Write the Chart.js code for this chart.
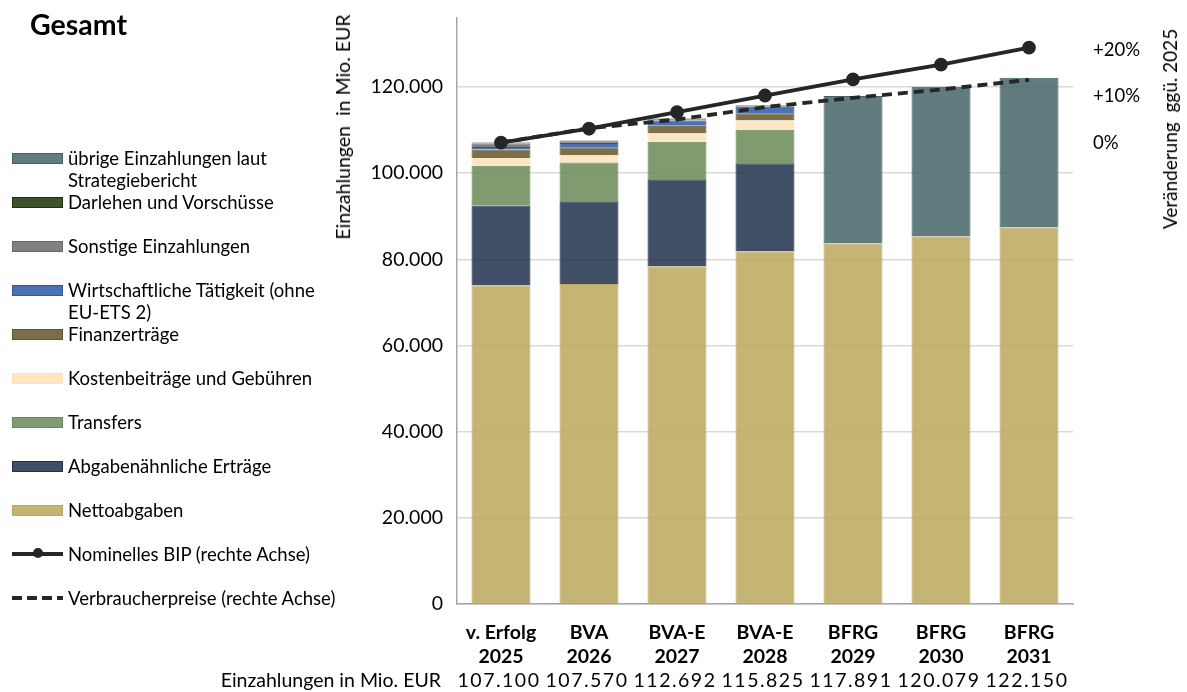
<!DOCTYPE html>
<html lang="de">
<head>
<meta charset="utf-8">
<title>Gesamt</title>
<script src="https://cdn.jsdelivr.net/npm/chart.js@4.4.1/dist/chart.umd.min.js"></script>
<style>
  body { margin: 0; background: #fff; font-family: Lato, "Open Sans", sans-serif; color: #000; }
  #wrap { position: relative; width: 1187px; height: 692px; overflow: hidden; }
  #chart { position: absolute; left: 0; top: 0; }
  #title { position: absolute; left: 30px; top: 10px; font-size: 28.5px; line-height: 28px; font-weight: 700; }
  .axisTitle { position: absolute; line-height: 22px; white-space: pre; transform: translate(-50%, -50%) rotate(-90deg); }
  .item { position: absolute; left: 12px; height: 22px; font-size: 18.5px; line-height: 22px; }
  .item .box { position: absolute; left: 0; top: 6px; width: 49px; height: 9px; border: 1px solid; }
  .item .line { position: absolute; left: 0; top: 9px; width: 51px; height: 3.5px; background: #262626; }
  .item .dashed { background: repeating-linear-gradient(to right, #262626 0 10px, transparent 10px 15px); }
  .item .dot { position: absolute; left: 21px; top: 5px; width: 10px; height: 10px; border-radius: 50%; background: #262626; }
  .item .txt { position: absolute; left: 56px; top: 0; white-space: pre; }
</style>
</head>
<body>
<div id="wrap">
  <canvas id="chart" width="1187" height="692"></canvas>
  <div id="title">Gesamt</div>
  <div class="axisTitle" style="left:343px; top:127px; font-size:19.5px;">Einzahlungen  in Mio. EUR</div>
  <div class="axisTitle" style="left:1170px; top:129px; font-size:19px;">Veränderung  ggü. 2025</div>
  <div id="legend"></div>
</div>
<script>
// Kategorien (x-Achse)
var categories = [
  ["v. Erfolg", "2025"],
  ["BVA", "2026"],
  ["BVA-E", "2027"],
  ["BVA-E", "2028"],
  ["BFRG", "2029"],
  ["BFRG", "2030"],
  ["BFRG", "2031"],
];
var totalsLabel = "Einzahlungen in Mio. EUR";
var totals = [107100, 107570, 112692, 115825, 117891, 120079, 122150];

// Einzahlungen in Mio. EUR (gestapelt, von unten nach oben)
var nettoabgaben = [73900, 74300, 78400, 81900, 83700, 85300, 87400];
var abgabenaehnlich = [18600, 19200, 20200, 20400, null, null, null];
var transfers = [9200, 9000, 8700, 7800, null, null, null];
var kostenbeitraege = [1800, 1700, 1900, 2100, null, null, null];
var finanzertraege = [2000, 1800, 1800, 1700, null, null, null];
var wirtschaftlich = [600, 1000, 1200, 1500, null, null, null];
var sonstige = [800, 400, 300, 300, null, null, null];
var darlehen = [200, 200, 200, 100, null, null, null];
var uebrige = [null, null, null, null, 34191, 34779, 34750];

// Veränderung ggü. 2025 in % (rechte Achse)
var bip = [0, 3.0, 6.6, 10.2, 13.7, 16.9, 20.6];
var vpi = [0, 3.1, 5.0, 7.7, 9.7, 11.5, 13.6];

// Achsen
var leftTicks = [0, 20000, 40000, 60000, 80000, 100000, 120000];
var rightTicks = [0, 10, 20];
var baseYear = 107100;
var leftMax = 136017;

function fmt(v) {
  return String(v).replace(/\B(?=(\d{3})+(?!\d))/g, ".");
}

var barSeries = [
  { label: "Nettoabgaben", data: nettoabgaben, rgb: "187,168,92" },
  { label: "Abgabenähnliche Erträge", data: abgabenaehnlich, rgb: "32,48,75" },
  { label: "Transfers", data: transfers, rgb: "104,138,86" },
  { label: "Kostenbeiträge und Gebühren", data: kostenbeitraege, rgb: "253,226,182" },
  { label: "Finanzerträge", data: finanzertraege, rgb: "100,86,44" },
  { label: "Wirtschaftliche Tätigkeit (ohne\nEU-ETS 2)", data: wirtschaftlich, rgb: "42,89,162" },
  { label: "Sonstige Einzahlungen", data: sonstige, rgb: "106,106,106" },
  { label: "Darlehen und Vorschüsse", data: darlehen, rgb: "28,52,12" },
  { label: "übrige Einzahlungen laut\nStrategiebericht", data: uebrige, rgb: "68,101,103" },
];

var datasets = [];
barSeries.forEach(function (s) {
  datasets.push({
    type: "bar",
    label: s.label.replace("\n", " "),
    legendText: s.label,
    data: s.data,
    backgroundColor: "rgba(" + s.rgb + ",0.85)",
    borderColor: "rgb(" + s.rgb + ")",
    borderWidth: 1,
    stack: "a",
    yAxisID: "y",
    order: 2,
    barPercentage: 0.67,
    categoryPercentage: 1,
  });
});
datasets.push({
  type: "line",
  label: "Nominelles BIP (rechte Achse)",
  legendText: "Nominelles BIP (rechte Achse)",
  data: bip,
  yAxisID: "y1",
  borderColor: "#262626",
  backgroundColor: "#262626",
  borderWidth: 3.8,
  pointRadius: 5,
  pointHoverRadius: 5,
  tension: 0,
  order: 0,
});
datasets.push({
  type: "line",
  label: "Verbraucherpreise (rechte Achse)",
  legendText: "Verbraucherpreise (rechte Achse)",
  data: vpi,
  yAxisID: "y1",
  borderColor: "#262626",
  backgroundColor: "#262626",
  borderWidth: 3.8,
  borderDash: [10, 6],
  pointRadius: 0,
  tension: 0,
  order: 1,
});

// Summenzeile unter der x-Achse
var totalsRow = {
  id: "totalsRow",
  afterDraw: function (chart) {
    var ctx = chart.ctx;
    var xs = chart.scales.x;
    ctx.save();
    ctx.font = "19.5px Lato";
    ctx.fillStyle = "#000";
    ctx.textBaseline = "middle";
    ctx.textAlign = "right";
    ctx.fillText(totalsLabel, 441, 681);
    ctx.textAlign = "center";
    ctx.letterSpacing = "1.5px";
    totals.forEach(function (v, i) {
      ctx.fillText(fmt(v), xs.getPixelForValue(i) - 2, 681);
    });
    ctx.restore();
  },
};

// y-Achsen ohne zusätzlichen Rand oben/unten
function noPad(scale, w) {
  scale.width = w;
  scale.paddingTop = 0;
  scale.paddingBottom = 0;
}

var chart = new Chart(document.getElementById("chart"), {
  data: { labels: categories, datasets: datasets },
  plugins: [totalsRow],
  options: {
    responsive: false,
    animation: false,
    layout: { padding: { top: 18, left: 0, right: 0, bottom: 0 } },
    plugins: {
      legend: { display: false },
      tooltip: { enabled: false },
    },
    scales: {
      x: {
        stacked: true,
        grid: { display: false, drawTicks: false },
        border: { color: "#a6a6a6", width: 1.5 },
        ticks: {
          color: "#000",
          padding: 17,
          maxRotation: 0,
          font: { family: "Lato", size: 19.5, weight: "bold", lineHeight: 1.23 },
        },
        afterFit: function (scale) { scale.height = 88; },
      },
      y: {
        stacked: true,
        position: "left",
        min: 0,
        max: leftMax,
        grid: { color: "#d9d9d9", lineWidth: 1.5, drawTicks: false },
        border: { color: "#a6a6a6", width: 1.5 },
        ticks: {
          color: "#000",
          padding: 14,
          font: { family: "Lato", size: 19.5 },
          callback: function (v) { return fmt(v); },
        },
        afterBuildTicks: function (scale) {
          scale.ticks = leftTicks.map(function (v) { return { value: v }; });
        },
        afterFit: function (scale) { noPad(scale, 457); },
      },
      y1: {
        position: "right",
        min: -100,
        max: (leftMax / baseYear - 1) * 100,
        grid: { display: false, drawTicks: false },
        border: { display: false },
        ticks: {
          color: "#000",
          padding: 20,
          font: { family: "Lato", size: 18.5 },
          callback: function (v) { return v === 0 ? "0%" : "+" + v + "%"; },
        },
        afterBuildTicks: function (scale) {
          scale.ticks = rightTicks.map(function (v) { return { value: v }; });
        },
        afterFit: function (scale) { noPad(scale, 114); },
      },
    },
  },
});

// Legende links (Balken von oben nach unten, dann Linien)
var legendEl = document.getElementById("legend");
var order = [8, 7, 6, 5, 4, 3, 2, 1, 0, 9, 10];
order.forEach(function (idx, i) {
  var ds = chart.data.datasets[idx];
  var item = document.createElement("div");
  item.className = "item";
  item.style.top = (147 + i * 44) + "px";
  var sym;
  if (ds.type === "bar") {
    sym = '<div class="box" style="background:' + ds.backgroundColor + ";border-color:" + ds.borderColor + '"></div>';
  } else if (ds.borderDash) {
    sym = '<div class="line dashed"></div>';
  } else {
    sym = '<div class="line"></div><div class="dot"></div>';
  }
  item.innerHTML = sym + '<div class="txt"></div>';
  item.querySelector(".txt").textContent = ds.legendText;
  legendEl.appendChild(item);
});
</script>
</body>
</html>
